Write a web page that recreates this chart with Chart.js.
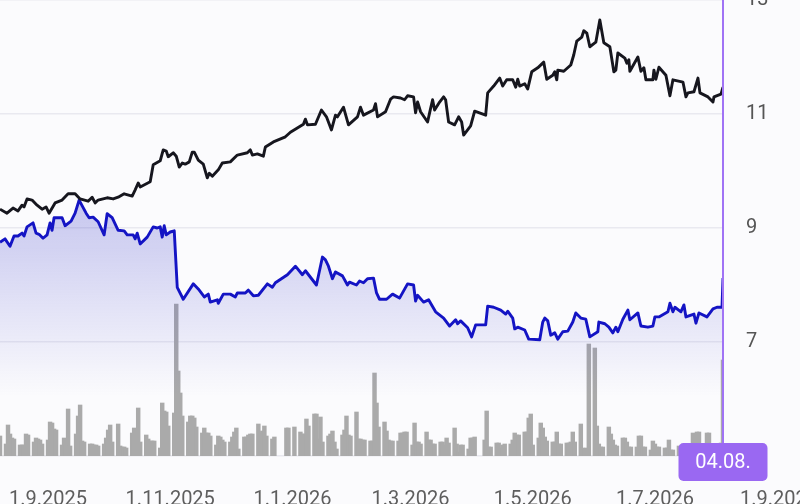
<!DOCTYPE html>
<html>
<head>
<meta charset="utf-8">
<script src="https://cdn.jsdelivr.net/npm/chart.js@4.4.1/dist/chart.umd.min.js"></script>
<style>
  html, body { margin: 0; padding: 0; background: #fbfbfd; }
  #wrap { width: 800px; height: 504px; position: relative; }
</style>
</head>
<body>
<div id="wrap"><canvas id="priceChart"></canvas></div>
<script>
// day offsets are counted from 8.8.2025
const START = Date.UTC(2025, 7, 8);
const DAY = 86400000;

const tickLabels = ["1.9.2025", "1.11.2025", "1.1.2026", "1.3.2026", "1.5.2026", "1.7.2026", "1.9.2026"];
const yTicks = [5, 7, 9, 11, 13];

// black series
const blackDays = [
  0, 3.5, 6.5, 9, 11, 12, 13.5, 16, 18.5, 21,
  23, 24.5, 27.5, 31, 34, 37.5, 40, 44, 46, 47.5,
  49, 53.5, 56.5, 59, 62, 66, 67.5, 69, 70, 75,
  76.5, 80, 81.5, 83, 84, 86.5, 88, 89.5, 91, 92.5,
  94.5, 96, 97, 99, 101.5, 103.5, 104.5, 106, 109, 111,
  115, 118.5, 123.5, 125, 126, 128.5, 131.5, 132.5, 136.5, 142.5,
  145, 151.5, 152.5, 153.5, 157.5, 160.5, 163, 165.5, 167.5, 168.5,
  171.5, 174, 178.5, 180, 181.5, 186.5, 187.5, 188.5, 192.5, 195,
  196.5, 200, 202, 203.5, 206.5, 207.5, 208.5, 210, 213.5, 214.5,
  216, 217, 219.5, 221.5, 222.5, 224, 227, 229, 230.5, 231.5,
  235, 237, 242.5, 243.5, 246.5, 249.5, 251, 253, 256, 257.5,
  258.5, 259.5, 262, 263.5, 265.5, 268.5, 271.5, 273, 276, 277,
  278, 278.5, 281.5, 285, 286.5, 288, 290.5, 291.5, 293, 294.5,
  297.5, 299.5, 301.5, 304.5, 306.5, 307.5, 308.5, 312, 313, 314,
  314.5, 318.5, 320, 321.5, 322.5, 326, 326.5, 327.5, 329, 332.5,
  334.5, 336, 341, 342.5, 343.5, 346.5, 348.5, 349.5, 353.5, 356,
  356.5, 360, 361
];
const blackValues = [
  9.33, 9.26, 9.35, 9.30, 9.40, 9.37, 9.51, 9.49, 9.40, 9.33,
  9.37, 9.26, 9.44, 9.49, 9.60, 9.60, 9.51, 9.47, 9.54, 9.44,
  9.49, 9.53, 9.51, 9.54, 9.60, 9.56, 9.67, 9.79, 9.72, 9.81,
  10.11, 10.18, 10.37, 10.35, 10.25, 10.32, 10.26, 10.07, 10.14, 10.12,
  10.16, 10.33, 10.33, 10.19, 10.12, 9.88, 9.96, 9.91, 10.02, 10.14,
  10.16, 10.28, 10.32, 10.37, 10.28, 10.30, 10.26, 10.42, 10.51, 10.60,
  10.68, 10.82, 10.91, 10.81, 10.82, 11.07, 10.95, 10.72, 10.98, 10.95,
  11.12, 10.81, 10.95, 11.12, 10.98, 11.07, 11.18, 10.95, 11.04, 11.26,
  11.30, 11.28, 11.25, 11.32, 11.30, 11.02, 11.21, 11.04, 10.86, 11.02,
  11.25, 11.07, 11.21, 11.30, 11.25, 10.86, 10.81, 10.95, 10.86, 10.63,
  10.79, 11.05, 10.98, 11.37, 11.49, 11.63, 11.49, 11.60, 11.60, 11.47,
  11.61, 11.49, 11.53, 11.44, 11.74, 11.81, 11.91, 11.61, 11.68, 11.74,
  11.60, 11.77, 11.75, 11.86, 12.04, 12.28, 12.35, 12.46, 12.42, 12.18,
  12.26, 12.65, 12.25, 12.18, 11.74, 11.77, 12.07, 11.98, 11.89, 11.95,
  11.75, 12.00, 11.75, 11.81, 11.60, 11.60, 11.77, 11.61, 11.82, 11.68,
  11.32, 11.60, 11.56, 11.30, 11.37, 11.39, 11.63, 11.37, 11.30, 11.21,
  11.30, 11.35, 11.47
];

// blue series
const blueDays = [
  0, 2.5, 5, 7, 9, 11, 12, 13.5, 16.5, 18,
  19.5, 21.5, 23.5, 25, 26, 27, 31, 32.5, 35.5, 37.5,
  39.5, 43, 44.5, 46.5, 49, 52, 53.5, 56, 59, 62,
  63.5, 66.5, 67.5, 68.5, 70, 73.5, 76.5, 78.5, 80, 81,
  82, 83, 85, 87, 88.5, 91.5, 96.5, 99, 102, 104,
  105, 108.5, 109, 111.5, 115, 117.5, 118.5, 122.5, 124, 126.5,
  129, 133.5, 136, 137.5, 143.5, 147.5, 151, 152.5, 158, 161,
  162.5, 164, 166, 167.5, 171, 173.5, 174.5, 178, 179.5, 181.5,
  183.5, 186.5, 188, 189.5, 193, 196, 199.5, 203.5, 206.5, 207.5,
  208.5, 211.5, 214, 217.5, 221.5, 224.5, 227.5, 228.5, 230, 233.5,
  235.5, 237.5, 242.5, 243.5, 246.5, 250, 252.5, 253.5, 256, 257,
  258.5, 262, 264, 269.5, 271, 272, 273.5, 275, 277, 278.5,
  281, 283.5, 286, 287.5, 290, 292.5, 294.5, 298.5, 299, 302,
  304, 306, 307.5, 308.5, 311, 313.5, 314.5, 318.5, 320, 323.5,
  326, 327, 329, 333.5, 334.5, 336, 337, 340, 341.5, 342.5,
  346.5, 347.5, 349, 353, 356, 358, 360.5, 361
];
const blueValues = [
  8.75, 8.81, 8.68, 8.86, 8.86, 8.91, 8.86, 9.02, 9.09, 8.91,
  8.89, 8.82, 8.88, 9.09, 8.96, 9.18, 9.18, 9.04, 9.12, 9.26,
  9.49, 9.26, 9.18, 9.19, 9.11, 8.88, 9.25, 9.18, 8.96, 8.95,
  8.88, 8.88, 8.81, 8.91, 8.72, 8.84, 9.02, 9.00, 9.02, 8.84,
  9.04, 8.88, 8.93, 8.95, 7.96, 7.75, 8.02, 7.93, 7.79, 7.84,
  7.70, 7.74, 7.68, 7.84, 7.84, 7.79, 7.86, 7.86, 7.91, 7.81,
  7.82, 8.02, 7.96, 8.04, 8.18, 8.33, 8.18, 8.25, 8.00, 8.49,
  8.44, 8.33, 8.11, 8.23, 8.16, 8.00, 8.05, 8.00, 8.07, 8.04,
  8.11, 8.12, 7.86, 7.75, 7.75, 7.84, 7.77, 8.02, 8.00, 7.72,
  7.82, 7.70, 7.74, 7.53, 7.42, 7.28, 7.39, 7.32, 7.37, 7.25,
  7.09, 7.30, 7.30, 7.63, 7.61, 7.56, 7.49, 7.54, 7.42, 7.23,
  7.26, 7.21, 7.05, 7.04, 7.35, 7.42, 7.37, 7.12, 7.16, 7.05,
  7.18, 7.19, 7.35, 7.51, 7.42, 7.40, 7.09, 7.18, 7.35, 7.32,
  7.26, 7.16, 7.26, 7.18, 7.40, 7.56, 7.39, 7.51, 7.28, 7.26,
  7.28, 7.44, 7.44, 7.53, 7.68, 7.53, 7.61, 7.53, 7.65, 7.44,
  7.49, 7.33, 7.51, 7.44, 7.58, 7.61, 7.61, 8.12
];

// volume (thousands) for every weekday from 8.8.2025, null = market closed
const volume = [
  20,
  12, 31, 22, 18, 17,   11, 11, 11, 22, 21,   14, 18, 17, 16, 12,   16, 34, 33, 27, 26,
  11, 18, 10, 47, 10,   22, 40, 51, 15, 14,   12, 12, 11, 11, 10,   12, 18, 26, 31, 14,
  32, 10, 9, 9, 8,      23, 28, 14, 48, 14,   21, 17, 15, 15, 15,   8, 53, 45, 44, 30,
  43, 152, 85, 63, 40,  34, 40, 40, 38, 29,   23, 28, 23, 23, 20,   11, 20, 19, 16, 14,
  14, 19, 24, 28, 7,    19, 19, 21, 22, 22,   32, 23, 25, 30, 20,   17, 19, null, null, null,
  28, 28, null, null, 29, 24, 22, 22, 37, 30, 42, 42, 17, 39, 14,   20, 22, 25, 14, 7,
  21, 26, 40, 21, 20,   44, 17, 17, 16, 16,   15, 15, 83, 53, 29,   34, 25, 16, 15, 15,
  15, 23, 23, 24, 24,   11, 33, 14, 14, 12,   24, 16, 16, 12, 12,   14, 14, 11, 18, 13,
  28, 12, 4, 11, 11,    7, 18, 18, 19, null,  null, 16, 45, 9, 9,   13, 13, 8, 11, 12,
  12, 16, 23, 21, 21,   24, 24, 38, 42, 11,   18, 33, 28, 19, 15,   14, 14, 24, 12, 12,
  13, 13, 14, 24, 14,   32, 8, 6, 8, 112,     108, 30, 12, 9, 9,    29, 22, 16, 11, 10,
  18, 18, 14, 9, 9,     9, 20, 20, 9, 9,      6, 15, 12, 9, 9,      8, 8, 16, 6, 6,
  10, 8, 10, 9, 8,      23, 12, 24, 24, 12,   23, 23, 10, 10, 10,
  13, 96
];

function dayOf(label) {
  const p = label.split(".").map(Number);
  return Math.round((Date.UTC(p[2], p[1] - 1, p[0]) - START) / DAY);
}
const tickDays = tickLabels.map(dayOf);

// weekday offsets for the volume bars
const volumeDays = [];
for (let d = 0; volumeDays.length < volume.length; d++) {
  const wd = new Date(START + d * DAY).getUTCDay();
  if (wd !== 0 && wd !== 6) volumeDays.push(d);
}
const lastDay = volumeDays[volumeDays.length - 1];
const lastDate = new Date(START + lastDay * DAY);
const lastLabel = String(lastDate.getUTCDate()).padStart(2, "0") + "." +
  String(lastDate.getUTCMonth() + 1).padStart(2, "0") + ".";

const blackData = blackDays.map((d, i) => ({ x: d, y: blackValues[i] }));
const blueData = blueDays.map((d, i) => ({ x: d, y: blueValues[i] }));
const volumeData = volumeDays.map((d, i) => ({ x: d, y: volume[i] }));

// purple marker line + date badge at the last day
const markerPlugin = {
  id: "lastDayMarker",
  afterDraw(chart) {
    const ctx = chart.ctx;
    const x = chart.scales.x.getPixelForValue(lastDay);
    const top = chart.chartArea.bottom - 13;
    ctx.save();
    ctx.strokeStyle = "#a073f5";
    ctx.lineWidth = 2;
    ctx.beginPath();
    ctx.moveTo(x, 0);
    ctx.lineTo(x, top);
    ctx.stroke();

    const w = 89, h = 38;
    ctx.fillStyle = "#9a68f2";
    ctx.beginPath();
    ctx.roundRect(x - w / 2, top, w, h, 5);
    ctx.fill();
    ctx.fillStyle = "#ffffff";
    ctx.font = "20px Roboto";
    ctx.textAlign = "center";
    ctx.textBaseline = "middle";
    ctx.fillText(lastLabel, x, top + h / 2 + 1);
    ctx.restore();
  }
};

Chart.defaults.font.family = "Roboto";
Chart.defaults.font.size = 20;

const ctx = document.getElementById("priceChart");

new Chart(ctx, {
  data: {
    datasets: [
      {
        type: "line",
        data: blackData,
        borderColor: "#16161e",
        borderWidth: 2.9,
        pointRadius: 0,
        borderJoinStyle: "round",
        tension: 0,
        fill: false,
        yAxisID: "y",
        order: 1
      },
      {
        type: "line",
        data: blueData,
        borderColor: "#1414c4",
        borderWidth: 2.9,
        pointRadius: 0,
        borderJoinStyle: "round",
        tension: 0,
        fill: "start",
        backgroundColor: (c) => {
          const area = c.chart.chartArea;
          if (!area) return "rgba(50,50,200,0.2)";
          const g = c.chart.ctx.createLinearGradient(0, area.top + 195, 0, area.bottom - 60);
          g.addColorStop(0, "rgba(50,50,200,0.27)");
          g.addColorStop(1, "rgba(50,50,200,0)");
          return g;
        },
        yAxisID: "y",
        order: 2
      },
      {
        type: "bar",
        data: volumeData,
        backgroundColor: "#aaaaaa",
        barThickness: 3.8,
        yAxisID: "vol",
        order: 10
      }
    ]
  },
  options: {
    responsive: true,
    maintainAspectRatio: false,
    animation: false,
    layout: { padding: 0 },
    plugins: {
      legend: { display: false },
      tooltip: { enabled: false }
    },
    scales: {
      x: {
        type: "linear",
        offset: false,
        min: 0,
        max: lastDay,
        grid: { display: false, offset: false },
        border: { display: false },
        ticks: {
          autoSkip: false,
          maxRotation: 0,
          minRotation: 0,
          padding: 24,
          color: "#5e5e5e",
          callback: (value, index) => tickLabels[index]
        },
        afterBuildTicks: (scale) => {
          scale.ticks = tickDays.map((v) => ({ value: v }));
        },
        afterFit: (scale) => {
          scale.height = 48;
          scale.paddingLeft = 0;
          scale.paddingRight = 0;
        }
      },
      y: {
        position: "right",
        min: 5,
        max: 13,
        grid: { color: "#e9e9f0", lineWidth: 1.6, drawTicks: false },
        border: { display: false },
        ticks: {
          padding: 23,
          color: "#555555",
          callback: (value) => (value === 5 ? "" : value)
        },
        afterBuildTicks: (scale) => {
          scale.ticks = yTicks.map((v) => ({ value: v }));
        },
        afterFit: (scale) => {
          scale.width = 77;
          scale.paddingTop = 0;
          scale.paddingBottom = 0;
        }
      },
      vol: {
        display: false,
        min: 0,
        max: 456
      }
    }
  },
  plugins: [markerPlugin]
});
</script>
</body>
</html>
